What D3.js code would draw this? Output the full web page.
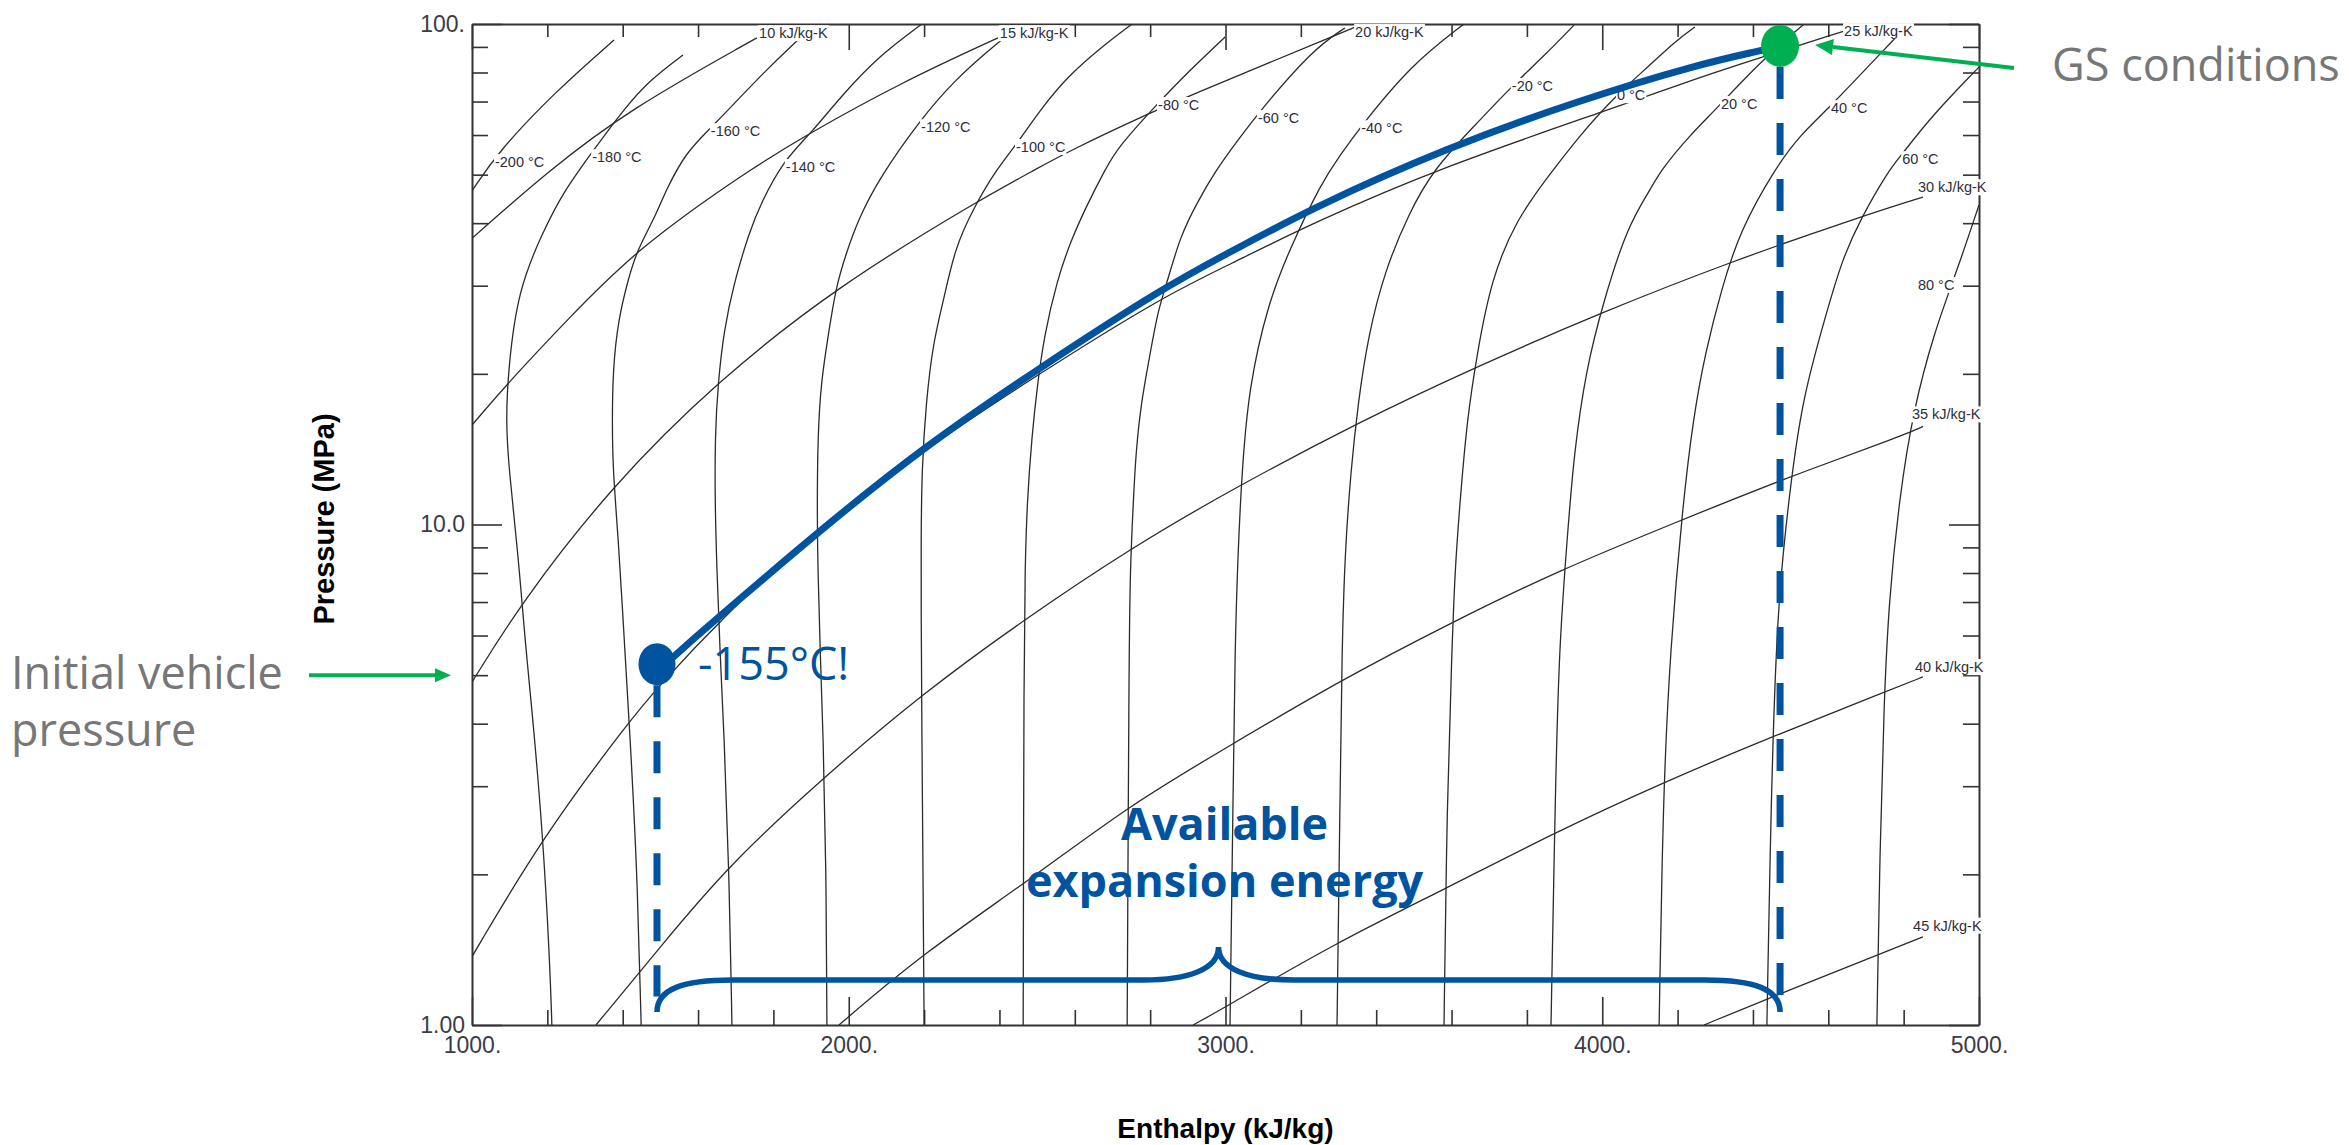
<!DOCTYPE html>
<html>
<head>
<meta charset="utf-8">
<script src="https://cdn.jsdelivr.net/npm/d3@7/dist/d3.min.js"></script>
<style>
  html, body { margin: 0; padding: 0; background: #ffffff; }
  svg { display: block; }
</style>
</head>
<body>
<svg id="chart" width="2349" height="1145"></svg>
<script>
// ---- values ----
// isotherms, each one a list of [enthalpy kJ/kg, pressure MPa]
var isothermNames = ["-200 °C", "-180 °C", "-160 °C", "-140 °C", "-120 °C", "-100 °C", "-80 °C",
    "-60 °C", "-40 °C", "-20 °C", "0 °C", "20 °C", "40 °C", "60 °C", "80 °C"];

var isothermPoints = [
    [[1000,46.4],[1069,55.5],[1220,73.1],[1377,92.9]],
    [[1212,1],[1207,1.31],[1188,2.42],[1157,4.46],[1143,5.61],[1122,8.8],[1098,12.9],[1090,16.0],[1096,20.4],
     [1122,29.4],[1188,38.4],[1242,46.1],[1319,55.5],[1401,67.3],[1472,77.3],[1560,86.7]],
    [[1449,1],[1438,2.07],[1419,3.83],[1398,7.06],[1388,9.4],[1374,12.9],[1372,16.0],[1374,20.4],[1388,25.6],
     [1414,30.8],[1438,35.3],[1491,41.9],[1512,46.1],[1568,55.5],[1634,61.9],[1780,80.9],[1871,93.8]],
    [[1690,1],[1682,2.07],[1669,3.83],[1658,5.61],[1650,8.1],[1645,11.0],[1645,15.0],[1653,19.2],[1669,24.5],
     [1695,30.3],[1735,38.2],[1767,43.9],[1828,53.5],[1900,60.5],[1982,72.1],[2083,86.7],[2194,100]],
    [[1942,1],[1940,2.07],[1932,3.83],[1924,5.61],[1918,8.1],[1916,11.0],[1918,15.0],[1926,19.2],[1948,24.5],
     [1966,29.8],[1993,34.8],[2025,40.6],[2078,48.8],[2189,64.3],[2282,77.3],[2372,88.7],[2428,95.9]],
    [[2200,1],[2197,2.07],[2194,3.83],[2192,7.06],[2192,9.4],[2194,12.9],[2205,17.5],[2224,23.1],[2250,27.7],
     [2282,35.8],[2333,43.1],[2391,51.1],[2444,57.3],[2508,67.3],[2579,78.3],[2667,89.5],[2752,100]],
    [[2463,1],[2465,5.61],[2468,8.1],[2473,11.0],[2486,15.0],[2500,18.8],[2518,23.7],[2553,30.8],[2590,37.0],
     [2635,43.9],[2680,51.1],[2715,56.8],[2821,69.5],[2906,80.9],[2999,94.2]],
    [[2739,1],[2744,5.61],[2747,8.1],[2755,11.0],[2762,13.9],[2776,17.5],[2797,21.3],[2821,26.9],[2847,30.8],
     [2879,37.5],[2924,43.9],[2975,51.1],[3033,58.6],[3089,66.7],[3230,88.7],[3317,98.2]],
    [[3012,1],[3020,2.81],[3025,5.61],[3033,8.8],[3044,12.9],[3062,18.8],[3113,27.7],[3171,35.6],[3254,48.1],
     [3304,54.7],[3362,62.8],[3492,82.8],[3633,100]],
    [[3296,1],[3304,2.81],[3309,5.61],[3317,8.8],[3333,12.9],[3352,17.5],[3378,23.7],[3423,32.2],[3487,41.9],
     [3551,51.1],[3657,62.2],[3763,75.5],[3848,86.7],[3925,99.5]],
    [[3580,1],[3588,2.81],[3601,5.61],[3609,8.1],[3622,11.0],[3641,16.2],[3668,22.0],[3705,30.8],[3771,40.6],
     [3859,49.9],[3941,60.0],[4037,72.1],[4127,82.8],[4191,92.0],[4246,98.6]],
    [[3864,1],[3875,2.81],[3885,5.61],[3907,9.4],[3925,13.9],[3957,20.4],[4002,27.7],[4066,39.3],[4127,46.6],
     [4156,51.1],[4233,60.0],[4305,67.9],[4419,84.0],[4536,100]],
    [[4151,1],[4161,2.81],[4180,5.61],[4214,11.0],[4241,16.2],[4273,22.0],[4318,29.8],[4366,38.7],[4459,51.5],
     [4525,60.0],[4602,67.9],[4772,92.9],[4804,98.2]],
    [[4437,1],[4448,2.81],[4461,5.61],[4475,8.1],[4498,11.7],[4530,17.7],[4594,26.3],[4636,33.7],[4684,40.6],
     [4761,51.1],[4790,54.2],[4870,64.9],[4992,80.9],[5000,82.0]],
    [[4729,1],[4737,2.24],[4748,4.46],[4761,7.06],[4788,11.2],[4825,16.9],[4883,24.5],[4942,32.2],[5000,43.5]]
];

// where each isotherm label sits (left edge of the text)
var isothermLabelAt = [[1061,53.0],[1319,54.2],[1634,61.1],[1833,51.8],[2192,62.2],[2444,56.8],[2821,68.9],
    [3086,64.9],[3360,61.9],[3760,75.2],[4039,72.1],[4315,69.2],[4607,67.9],[4796,53.7],[4838,30.1]];

// isentropes
var isentropeNames = ["10 kJ/kg-K", "15 kJ/kg-K", "20 kJ/kg-K", "25 kJ/kg-K",
    "30 kJ/kg-K", "35 kJ/kg-K", "40 kJ/kg-K", "45 kJ/kg-K"];

var isentropePoints = [
    [[1000,37.3],[1199,50.6],[1414,67.3],[1756,93.8]],
    [[1000,15.8],[1096,19.2],[1252,25.6],[1438,35.6],[1735,51.1],[1887,60.0],[2136,76.2],[2396,93.8]],
    [[1000,4.84],[1130,6.97],[1369,11.9],[1650,19.3],[1966,29.8],[2346,44.5],[2494,51.1],[2579,55.5],
     [2816,67.3],[2922,72.8],[3344,98.6]],
    [[1000,1.37],[1188,2.38],[1419,4.06],[1491,4.71],[1664,6.5],[1921,9.9],[2205,14.2],[2500,19.9],
     [2829,28.4],[3012,33.1],[3230,40.0],[3575,51.8],[4037,68.2],[4259,78.3],[4424,85.9],[4642,96.8]],
    [[1329,1],[1499,1.43],[1677,2.07],[1934,3.13],[2197,4.60],[2463,6.44],[2752,9.0],[3012,11.7],
     [3352,16.0],[3668,20.7],[4002,26.6],[4336,33.4],[4697,41.5],[4851,45.1]],
    [[1974,1],[2197,1.39],[2481,1.95],[2739,2.73],[3012,3.62],[3307,4.89],[3596,6.35],[3885,8.1],
     [4196,10.1],[4464,12.2],[4812,15.2],[4851,15.7]],
    [[2914,1],[2985,1.07],[3293,1.46],[3577,1.86],[3872,2.42],[4156,3.04],[4459,3.79],[4748,4.62],[4851,4.96]],
    [[4270,1],[4453,1.14],[4721,1.37],[4851,1.50]]
];

var isentropeLabelAt = [[1762,95.9],[2401,95.9],[3344,96.4],[4642,96.8],
    [4838,47.2],[4822,16.6],[4830,5.19],[4825,1.58]];

// the fill process drawn over the chart
var processPath = [[1491,5.07],[1560,5.67],[1714,7.13],[1921,9.70],[2205,14.4],[2500,20.4],[2834,29.7],
    [3012,35.0],[3230,42.9],[3585,56.5],[3941,70.5],[4259,83.2],[4416,88.3],[4472,90.4]];
var initialState = [1491, 5.26];
var gsState = [4472, 90.4];
var vehiclePressure = 5.0;
var dropFloor = 1.14;

// axes
var xMajor = [1000, 2000, 3000, 4000, 5000];
var xMajorLabels = ["1000.", "2000.", "3000.", "4000.", "5000."];
var xMinor = [1200, 1400, 1600, 1800, 2200, 2400, 2600, 2800, 3200, 3400, 3600, 3800,
    4200, 4400, 4600, 4800];
var yMajor = [1, 10, 100];
var yMajorLabels = ["1.00", "10.0", "100."];
var yMinor = [2, 3, 4, 5, 6, 7, 8, 9, 20, 30, 40, 50, 60, 70, 80, 90];

var blue = "#00539f";
var green = "#00b050";
var grey = "#777777";
var ink = "#333333";

// ---- scales ----
var plotL = 472, plotR = 1979, plotT = 24, plotB = 1025;
var x = d3.scaleLinear().domain([1000, 5000]).range([plotL, plotR]);
var y = d3.scaleLog().domain([1, 100]).range([plotB, plotT]);

var svg = d3.select("#chart");
svg.append("rect").attr("width", 2349).attr("height", 1145).attr("fill", "#fff");

svg.append("clipPath").attr("id", "plot")
    .append("rect").attr("x", plotL).attr("y", plotT)
    .attr("width", plotR - plotL).attr("height", plotB - plotT);

var line = d3.line()
    .x(function(d) { return x(d[0]); })
    .y(function(d) { return y(d[1]); })
    .curve(d3.curveBasis);

// ---- axes (ticks point inwards on all four sides) ----
function styleAxis(g) {
    g.selectAll(".tick line").attr("stroke", ink).attr("stroke-width", 1.6);
    g.selectAll(".tick text").attr("fill", "#3b3b48")
        .style("font-family", "'Liberation Sans', Arial, sans-serif")
        .style("font-size", "23px");
    g.select(".domain").attr("stroke", ink).attr("stroke-width", 2);
}

svg.append("g").attr("transform", "translate(0," + plotB + ")")
    .call(d3.axisBottom(x).tickValues(xMinor).tickSize(-15).tickFormat(""))
    .call(styleAxis).select(".domain").remove();
svg.append("g").attr("transform", "translate(0," + plotB + ")")
    .call(d3.axisBottom(x).tickValues(xMajor).tickSizeInner(-28).tickSizeOuter(0).tickPadding(12)
        .tickFormat(function(d, i) { return xMajorLabels[i]; }))
    .call(styleAxis);

svg.append("g").attr("transform", "translate(0," + plotT + ")")
    .call(d3.axisTop(x).tickValues(xMinor).tickSize(-13).tickFormat(""))
    .call(styleAxis).select(".domain").remove();
svg.append("g").attr("transform", "translate(0," + plotT + ")")
    .call(d3.axisTop(x).tickValues(xMajor).tickSizeInner(-26).tickSizeOuter(0).tickFormat(""))
    .call(styleAxis);

svg.append("g").attr("transform", "translate(" + plotL + ",0)")
    .call(d3.axisLeft(y).tickValues(yMinor).tickSize(-16).tickFormat(""))
    .call(styleAxis).select(".domain").remove();
svg.append("g").attr("transform", "translate(" + plotL + ",0)")
    .call(d3.axisLeft(y).tickValues(yMajor).tickSizeInner(-30).tickSizeOuter(0).tickPadding(7)
        .tickFormat(function(d, i) { return yMajorLabels[i]; }))
    .call(styleAxis);

svg.append("g").attr("transform", "translate(" + plotR + ",0)")
    .call(d3.axisRight(y).tickValues(yMinor).tickSize(-16).tickFormat(""))
    .call(styleAxis).select(".domain").remove();
svg.append("g").attr("transform", "translate(" + plotR + ",0)")
    .call(d3.axisRight(y).tickValues(yMajor).tickSizeInner(-30).tickSizeOuter(0).tickFormat(""))
    .call(styleAxis);

// axis titles
svg.append("text")
    .attr("transform", "translate(334,519) rotate(-90)")
    .attr("text-anchor", "middle")
    .style("font-family", "'Liberation Sans', Arial, sans-serif")
    .style("font-size", "29px").style("font-weight", "bold")
    .text("Pressure (MPa)");

svg.append("text")
    .attr("x", (plotL + plotR) / 2).attr("y", 1138)
    .attr("text-anchor", "middle")
    .style("font-family", "'Liberation Sans', Arial, sans-serif")
    .style("font-size", "28px").style("font-weight", "bold")
    .text("Enthalpy (kJ/kg)");

// ---- property lines ----
var curves = svg.append("g").attr("clip-path", "url(#plot)");

curves.selectAll(".isotherm")
    .data(isothermPoints)
    .enter()
    .append("path")
    .attr("class", "isotherm")
    .attr("d", line)
    .attr("fill", "none").attr("stroke", "#2b2b2b").attr("stroke-width", 1.3);

curves.selectAll(".isentrope")
    .data(isentropePoints)
    .enter()
    .append("path")
    .attr("class", "isentrope")
    .attr("d", line)
    .attr("fill", "none").attr("stroke", "#2b2b2b").attr("stroke-width", 1.3);

// small labels with a white box behind them
function addLabel(name, at) {
    var g = svg.append("g")
        .attr("transform", "translate(" + x(at[0]) + "," + y(at[1]) + ")");
    var t = g.append("text")
        .attr("dy", "0.35em")
        .attr("fill", "#2e2e3a")
        .style("font-family", "'Liberation Sans', Arial, sans-serif")
        .style("font-size", "14.5px")
        .text(name);
    var b = t.node().getBBox();
    g.insert("rect", "text")
        .attr("x", b.x - 1).attr("y", b.y)
        .attr("width", b.width + 2).attr("height", b.height)
        .attr("fill", "#fff");
}

isothermNames.forEach(function(n, i) { addLabel(n, isothermLabelAt[i]); });
isentropeNames.forEach(function(n, i) { addLabel(n, isentropeLabelAt[i]); });

// ---- annotations ----
var notes = svg.append("g");
var base = y(1);

// dashed drop lines from both states down to the brace
[initialState, gsState].forEach(function(s) {
    notes.append("line")
        .attr("x1", x(s[0])).attr("x2", x(s[0]))
        .attr("y1", y(s[1]) + 21).attr("y2", y(dropFloor))
        .attr("stroke", blue).attr("stroke-width", 7)
        .attr("stroke-dasharray", "32,24");
});

// the process curve
notes.append("path")
    .datum(processPath)
    .attr("d", line)
    .attr("fill", "none").attr("stroke", blue).attr("stroke-width", 7)
    .attr("stroke-linecap", "round");

notes.append("ellipse")
    .attr("cx", x(initialState[0])).attr("cy", y(initialState[1]))
    .attr("rx", 18.5).attr("ry", 21).attr("fill", blue);

notes.append("ellipse")
    .attr("cx", x(gsState[0])).attr("cy", y(gsState[1]))
    .attr("rx", 19).attr("ry", 21).attr("fill", green);

// curly brace under the expansion range
var xl = x(initialState[0]), xr = x(gsState[0]), xm = (xl + xr) / 2;
var brace = d3.path();
brace.moveTo(xl, base - 13);
brace.bezierCurveTo(xl, base - 36, xl + 26, base - 45, xl + 75, base - 45);
brace.lineTo(xm - 75, base - 45);
brace.bezierCurveTo(xm - 30, base - 45, xm, base - 56, xm, base - 78);
brace.bezierCurveTo(xm, base - 56, xm + 30, base - 45, xm + 75, base - 45);
brace.lineTo(xr - 75, base - 45);
brace.bezierCurveTo(xr - 26, base - 45, xr, base - 36, xr, base - 13);
notes.append("path")
    .attr("d", brace.toString())
    .attr("fill", "none").attr("stroke", blue).attr("stroke-width", 5.5);

var sans = "'Open Sans', 'Noto Sans', sans-serif";

notes.append("text")
    .attr("x", x(initialState[0]) + 41).attr("y", y(initialState[1]) + 16)
    .attr("fill", blue)
    .style("font-family", sans).style("font-size", "45px")
    .text("-155°C!");

notes.append("text")
    .attr("x", xm + 6).attr("y", base - 185)
    .attr("text-anchor", "middle").attr("fill", blue)
    .style("font-family", sans).style("font-size", "45px").style("font-weight", "bold")
    .text("Available");
notes.append("text")
    .attr("x", xm + 6).attr("y", base - 128)
    .attr("text-anchor", "middle").attr("fill", blue)
    .style("font-family", sans).style("font-size", "45px").style("font-weight", "bold")
    .text("expansion energy");

// grey call-outs with green arrows
function arrow(x1, y1, x2, y2, len, half) {
    var a = Math.atan2(y2 - y1, x2 - x1);
    var bx = x2 - len * Math.cos(a), by = y2 - len * Math.sin(a);
    notes.append("line")
        .attr("x1", x1).attr("y1", y1).attr("x2", bx).attr("y2", by)
        .attr("stroke", green).attr("stroke-width", 4);
    notes.append("path")
        .attr("d", "M" + x2 + "," + y2 +
            "L" + (bx + half * Math.sin(a)) + "," + (by - half * Math.cos(a)) +
            "L" + (bx - half * Math.sin(a)) + "," + (by + half * Math.cos(a)) + "Z")
        .attr("fill", green);
}

arrow(309, y(vehiclePressure), plotL - 21, y(vehiclePressure), 16, 7);
arrow(2014, y(gsState[1]) + 22, x(gsState[0]) + 35, y(gsState[1]) - 1, 18, 8);

notes.append("text")
    .attr("x", 11).attr("y", y(vehiclePressure) + 14)
    .attr("fill", grey)
    .style("font-family", sans).style("font-size", "45px")
    .text("Initial vehicle");
notes.append("text")
    .attr("x", 11).attr("y", y(vehiclePressure) + 71)
    .attr("fill", grey)
    .style("font-family", sans).style("font-size", "45px")
    .text("pressure");

notes.append("text")
    .attr("x", x(gsState[0]) + 272).attr("y", y(gsState[1]) + 35)
    .attr("fill", grey)
    .style("font-family", sans).style("font-size", "45px")
    .text("GS conditions");
</script>
</body>
</html>
